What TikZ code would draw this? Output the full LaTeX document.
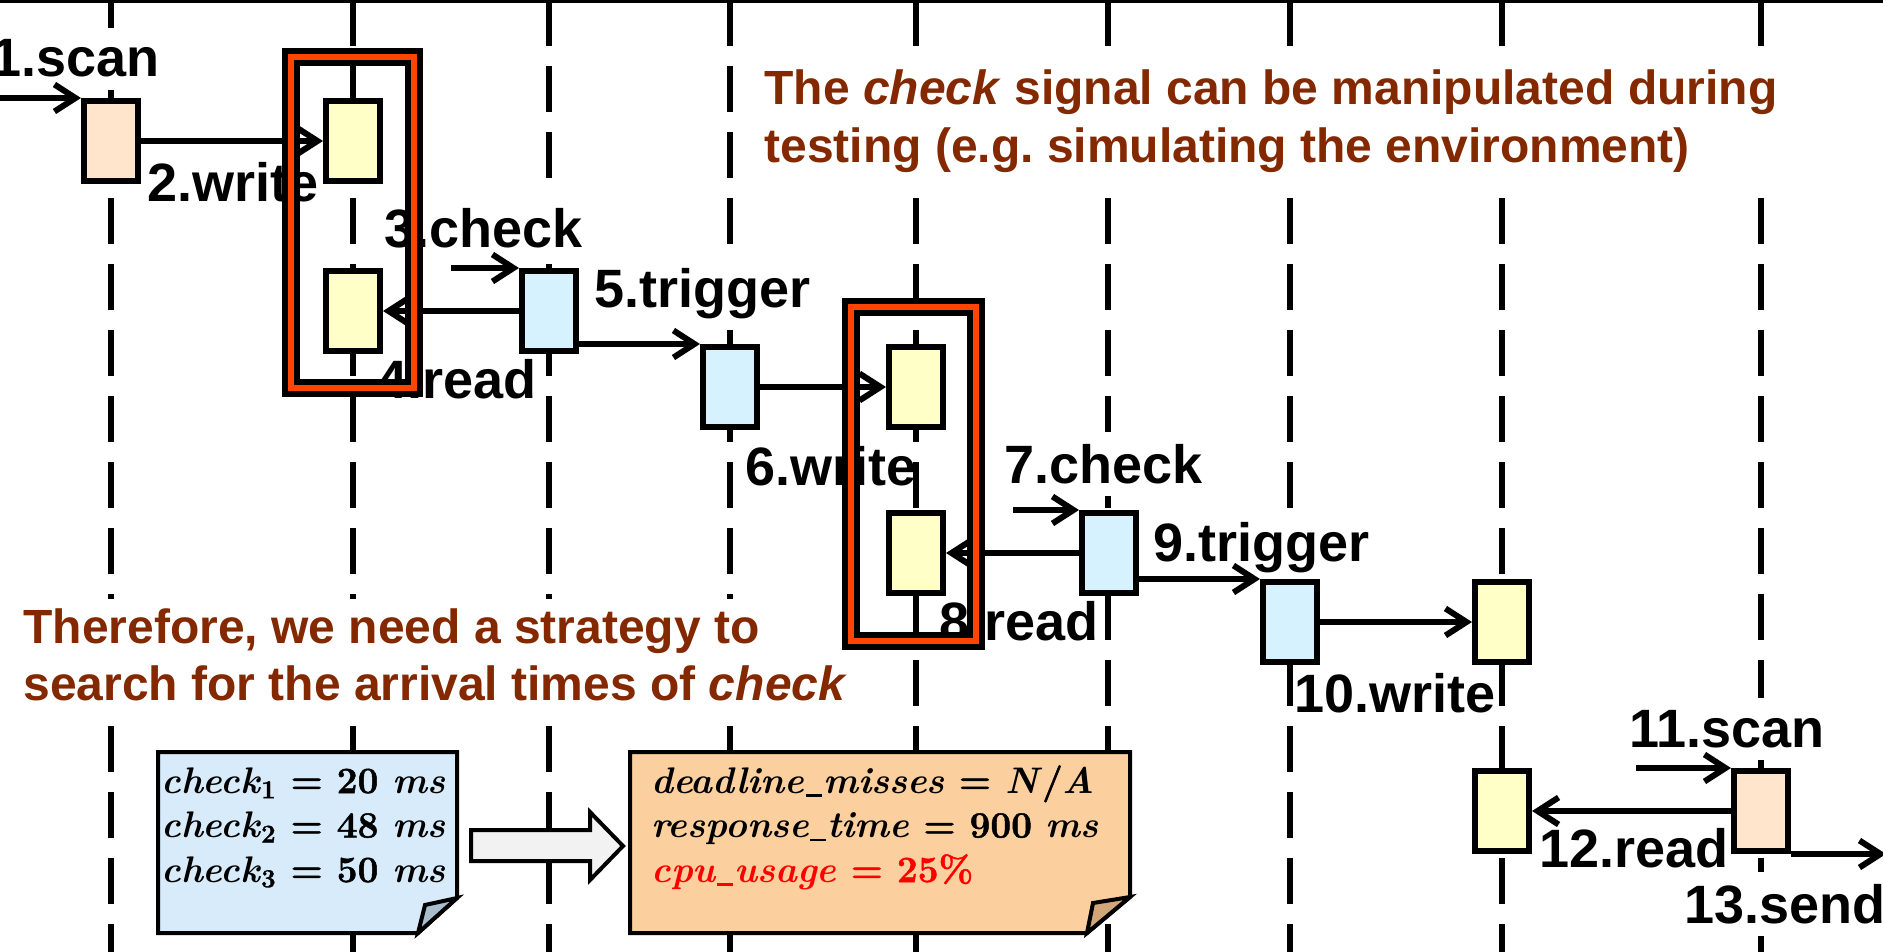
\documentclass[tikz,border=0pt]{standalone}
\usepackage{fontspec}
\setmainfont{Liberation Sans}
\newfontfamily\notefont[BoldFeatures={FakeBold=1.3}]{Latin Modern Roman}
\usetikzlibrary{arrows.meta}

\definecolor{peachc}{RGB}{255,229,204}
\definecolor{yellowc}{RGB}{255,255,199}
\definecolor{bluec}{RGB}{214,242,255}
\definecolor{noteblue}{RGB}{215,235,250}
\definecolor{noteorange}{RGB}{252,208,158}
\definecolor{flapblue}{RGB}{168,190,204}
\definecolor{flaporange}{RGB}{210,166,120}
\definecolor{arrowgray}{RGB}{242,242,242}
\definecolor{framered}{RGB}{255,69,0}
\definecolor{brownc}{RGB}{132,40,0}

% a variable in the notes, a subscripted one, and a short underscore
\newcommand{\nv}[1]{\textit{#1}}
\newcommand{\nvs}[2]{\textit{#1}\textsubscript{#2}}
\newcommand{\us}{\kern0.04em\rule[-0.1em]{0.42em}{0.07em}\kern0.04em}

\begin{document}
\begin{tikzpicture}[x=0.5pt,y=-0.5pt,
  lifeline/.style={line width=2.9pt, dash pattern=on 23pt off 10pt},
  lbl/.style={font=\bfseries\fontsize{27pt}{32pt}\selectfont, inner xsep=0pt,
    inner ysep=6pt, anchor=base west, fill=white},
  remark/.style={font=\bfseries\fontsize{24pt}{29pt}\selectfont, text=brownc,
    inner xsep=0pt, anchor=base west, fill=white},
  mathtext/.style={font=\notefont\bfseries\fontsize{18.5pt}{22.25pt}\selectfont,
    inner sep=0pt, anchor=base west},
  notearea/.style={inner sep=0pt, outer sep=0pt},
  notebody/.style={line width=2pt, draw=black, line join=miter},
  box/.style={draw, line width=3pt, minimum width=27pt, minimum height=40pt,
    inner sep=0pt},
  peachbox/.style={box, fill=peachc},
  yellowbox/.style={box, fill=yellowc},
  bluebox/.style={box, fill=bluec},
  msg/.style={line width=3pt, -{Straight Barb[length=10.5pt,width=13.5pt]}},
  frame/.style={draw=black, line width=2.8pt, double=framered,
    double distance=3.2pt, inner sep=0pt}]

\useasboundingbox (0,0) rectangle (1883,952);

% lifelines and top rule
\foreach \lx in {111,353,549,730,916,1108,1290,1502,1761}
  \draw[lifeline] (\lx,0) -- (\lx,960);
\draw[line width=1.4pt] (0,1.4) -- (1883,1.4);

% message labels
\node[lbl, anchor=base east] (l1) at (160,77) {1.scan};
\node[lbl] (l2) at (147,202) {2.write};
\node[lbl] (l3) at (384,248) {3.check};
\node[lbl] (l4) at (377,398) {4.read};
\node[lbl] (l5) at (594,307) {5.trigger};
\node[lbl, fill=none] (l6) at (745,485) {6.write};
\node[lbl] (l7) at (1004,483) {7.check};
\node[lbl] (l8) at (939,640) {8.read};
\node[lbl] (l9) at (1153,561) {9.trigger};
\node[lbl] (l10) at (1294,712) {10.write};
\node[lbl] (l11) at (1629,747) {11.scan};
\node[lbl] (l12) at (1539,867) {12.read};
\node[lbl] (l13) at (1684,923) {13.send};

% remarks
\node[remark, inner ysep=8pt] (top) at (764,105)
  {\begin{tabular}[t]{@{}l@{}}The \textit{check} signal can be manipulated during\\
   testing (e.g.\ simulating the environment)\end{tabular}};
\node[remark, inner ysep=2pt, font=\bfseries\fontsize{24pt}{28.5pt}\selectfont] (therefore) at (23,643)
  {\begin{tabular}[t]{@{}l@{}}Therefore, we need a strategy to\\
   search for the arrival times of \textit{check}\end{tabular}};

% input note
\node[notearea, minimum width=149.5pt, minimum height=90.5pt] (n1) at (307.5,842.5) {};
\fill[black!70, shift={(1.6pt,-1.6pt)}] (n1.north west) -- (n1.north east)
  -- ([yshift=17.5pt]n1.south east) -- ([xshift=-19.5pt]n1.south east)
  -- (n1.south west) -- cycle;
\path[notebody, fill=noteblue] (n1.north west) -- (n1.north east)
  -- ([yshift=17.5pt]n1.south east) -- ([xshift=-19.5pt]n1.south east)
  -- (n1.south west) -- cycle;
\path[notebody, fill=flapblue] ([yshift=17.5pt]n1.south east)
  -- ([xshift=-16pt,yshift=14pt]n1.south east) -- ([xshift=-19.5pt]n1.south east) -- cycle;
\node[mathtext] (t1) at (161,793)
  {\begin{tabular}[t]{@{}l@{}}\nvs{check}{1} = 20 \nv{ms}\\ \nvs{check}{2} = 48 \nv{ms}\\
   \nvs{check}{3} = 50 \nv{ms}\end{tabular}};

% result note
\node[notearea, minimum width=250pt, minimum height=90.5pt] (n2) at (880,842.5) {};
\fill[black!70, shift={(1.6pt,-1.6pt)}] (n2.north west) -- (n2.north east)
  -- ([yshift=18pt]n2.south east) -- ([xshift=-21.5pt]n2.south east)
  -- (n2.south west) -- cycle;
\path[notebody, fill=noteorange] (n2.north west) -- (n2.north east)
  -- ([yshift=18pt]n2.south east) -- ([xshift=-21.5pt]n2.south east)
  -- (n2.south west) -- cycle;
\path[notebody, fill=flaporange] ([yshift=18pt]n2.south east)
  -- ([xshift=-18.5pt,yshift=15pt]n2.south east) -- ([xshift=-21.5pt]n2.south east) -- cycle;
\node[mathtext] (t2) at (651,793)
  {\begin{tabular}[t]{@{}l@{}}\nv{deadline\us misses} = \nv{N}/\nv{A}\\
   \nv{response\us time} = 900 \nv{ms}\\
   \textcolor{red}{\nv{cpu\us usage} = 25\%}\end{tabular}};

% block arrow from the input note to the result note
\draw[line width=2pt, fill=arrowgray, line join=miter]
  (471,830) -- (590,830) -- (590,812) -- (623,846) -- (590,880)
  -- (590,861) -- (471,861) -- cycle;

% activation boxes
\node[peachbox]  (b1)  at (111,141) {};
\node[yellowbox] (b2)  at (353,141) {};
\node[yellowbox] (b3)  at (353,311) {};
\node[bluebox]   (b4)  at (549,311) {};
\node[bluebox]   (b5)  at (730,387) {};
\node[yellowbox] (b6)  at (916,387) {};
\node[yellowbox] (b7)  at (916,553) {};
\node[bluebox]   (b8)  at (1109,553) {};
\node[bluebox]   (b9)  at (1290,622) {};
\node[yellowbox] (b10) at (1502,622) {};
\node[yellowbox] (b11) at (1502,811) {};
\node[peachbox]  (b12) at (1761,811) {};

% free ends of incoming and outgoing messages
\coordinate (s1) at (-10,0);
\coordinate (s3) at (451,0);
\coordinate (s7) at (1013,0);
\coordinate (s11) at (1636,0);
\coordinate (e13) at (1886,0);

% messages
\draw[msg] (b1.north west -| s1) -- (b1.north west);
\draw[msg] (b1.east) -- (b2.west);
\draw[msg] (b4.north west -| s3) -- (b4.north west);
\draw[msg] (b4.west) -- (b3.east);
\draw[msg] (b4.east |- b5.north west) -- (b5.north west);
\draw[msg] (b5.east) -- (b6.west);
\draw[msg] (b8.north west -| s7) -- (b8.north west);
\draw[msg] (b8.west) -- (b7.east);
\draw[msg] (b8.east |- b9.north west) -- (b9.north west);
\draw[msg] (b9.east) -- (b10.west);
\draw[msg] (b12.north west -| s11) -- (b12.north west);
\draw[msg] (b12.west) -- (b11.east);
\draw[msg] (b12.south east) -- (b12.south east -| e13);

% highlighted check/read pairs
\node[frame, minimum width=61.5pt, minimum height=165.5pt] (f1) at (352.5,222.5) {};
\node[frame, minimum width=62.5pt, minimum height=167pt] (f2) at (913.5,474) {};
\end{tikzpicture}
\end{document}
